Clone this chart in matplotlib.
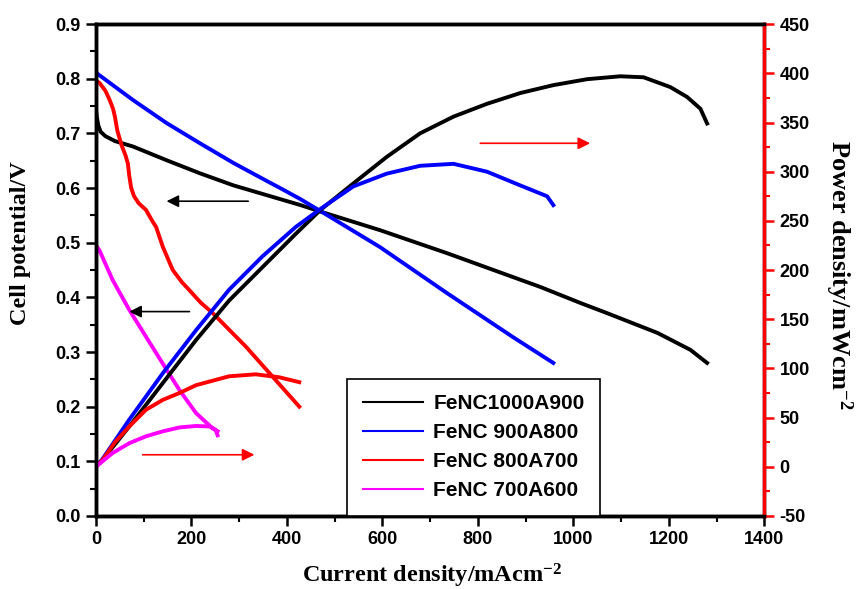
import matplotlib
matplotlib.use("Agg")
import matplotlib.pyplot as plt
from matplotlib.ticker import MultipleLocator, FormatStrFormatter

plt.rcParams["font.family"] = "Liberation Sans"
plt.rcParams["font.weight"] = "bold"
plt.rcParams["font.size"] = 13
plt.rcParams["axes.unicode_minus"] = False
plt.rcParams["mathtext.fontset"] = "custom"
plt.rcParams["mathtext.rm"] = "Liberation Serif:bold"
plt.rcParams["mathtext.it"] = "Liberation Serif:bold"
plt.rcParams["mathtext.bf"] = "Liberation Serif:bold"

# polarization curves (left axis, V)
i_1000 = [0, 2, 5, 10, 20, 40, 78, 148, 218, 288, 358, 428, 474, 595, 735, 874, 931, 1014, 1071, 1176, 1245, 1280]
v_1000 = [0.745, 0.73, 0.715, 0.703, 0.695, 0.686, 0.676, 0.651, 0.627, 0.605, 0.587, 0.569, 0.556, 0.523, 0.481, 0.437, 0.419, 0.39, 0.371, 0.335, 0.304, 0.28]
i_900 = [0, 2, 78, 148, 218, 288, 358, 386, 428, 474, 595, 735, 874, 958]
v_900 = [0.815, 0.81, 0.761, 0.719, 0.682, 0.646, 0.613, 0.600, 0.580, 0.556, 0.492, 0.408, 0.327, 0.28]
i_800 = [0, 8, 20, 29, 36, 40, 45, 54, 62, 67, 70, 74, 80, 90, 105, 118, 126, 140, 161, 180, 196, 220, 245, 280, 314, 370, 426]
v_800 = [0.797, 0.792, 0.778, 0.761, 0.745, 0.73, 0.705, 0.678, 0.66, 0.645, 0.622, 0.60, 0.585, 0.572, 0.56, 0.54, 0.529, 0.493, 0.45, 0.428, 0.413, 0.39, 0.371, 0.34, 0.31, 0.255, 0.20]
i_700 = [0, 7, 35, 70, 105, 140, 175, 210, 245, 255]
v_700 = [0.495, 0.487, 0.432, 0.377, 0.328, 0.279, 0.2305, 0.188, 0.160, 0.155]

# power density curves (right axis, mW/cm2)
pi_1000 = [0, 14, 70, 140, 210, 279, 349, 419, 470, 539, 609, 679, 749, 819, 889, 958, 1028, 1098, 1147, 1203, 1238, 1266, 1280]
p_1000 = [0, 7, 41, 85, 129, 169, 203, 237, 261, 288, 315, 339, 356, 369, 380, 388, 394, 397, 396, 386, 376, 364, 349]
pi_900 = [0, 14, 70, 140, 210, 279, 349, 419, 470, 539, 609, 679, 749, 819, 889, 945, 958]
p_900 = [0, 8, 48, 95, 139, 180, 214, 244, 262, 285, 298, 306, 308, 300, 286, 275, 266]
pi_800 = [0, 14, 40, 70, 105, 140, 175, 210, 279, 335, 384, 426]
p_800 = [0, 7, 25, 41, 58, 68, 75, 83, 92, 94, 91, 86]
pi_700 = [0, 35, 70, 105, 140, 175, 210, 238, 250, 255]
p_700 = [0, 14, 24, 31, 36, 40, 41.5, 41, 38, 32]

labels = ["FeNC1000A900", "FeNC 900A800", "FeNC 800A700", "FeNC 700A600"]
colors = ["black", "#0000ff", "#ff0000", "#ff00ff"]

serif = {"family": "Liberation Serif", "weight": "bold"}

fig = plt.figure(figsize=(8.56, 5.89), dpi=100)
ax = fig.add_axes([0.112, 0.124, 0.781, 0.835])
ax2 = ax.twinx()

lw = 2.8
pol = [(i_1000, v_1000), (i_900, v_900), (i_800, v_800), (i_700, v_700)]
pw = [(pi_1000, p_1000), (pi_900, p_900), (pi_800, p_800), (pi_700, p_700)]
for (x, y), lab, c in zip(pol, labels, colors):
    ax.plot(x, y, color=c, lw=lw, label=lab, solid_joinstyle="round")
for (x, y), c in zip(pw, colors):
    ax2.plot(x, y, color=c, lw=lw, solid_joinstyle="round")

ax.set_xlim(0, 1400)
ax.set_ylim(0, 0.9)
ax2.set_ylim(-50, 450)

ax.xaxis.set_major_locator(MultipleLocator(200))
ax.xaxis.set_minor_locator(MultipleLocator(100))
ax.yaxis.set_major_locator(MultipleLocator(0.1))
ax.yaxis.set_minor_locator(MultipleLocator(0.05))
ax.yaxis.set_major_formatter(FormatStrFormatter("%.1f"))
ax2.yaxis.set_major_locator(MultipleLocator(50))
ax2.yaxis.set_minor_locator(MultipleLocator(25))

for a in (ax, ax2):
    for s in a.spines.values():
        s.set_linewidth(2.5)
ax2.spines["right"].set_color("red")

ax.tick_params(which="major", direction="out", length=7.5, width=1.8, top=False, right=False)
ax.tick_params(which="minor", direction="out", length=4.5, width=1.5, top=False, right=False)
ax2.tick_params(which="major", direction="out", length=7.5, width=1.8, color="red")
ax2.tick_params(which="minor", direction="out", length=4, width=1.5, color="red")

ax.set_xlabel("Current density/mAcm$^{-2}$", fontsize=17.5, **serif)
ax.xaxis.set_label_coords(0.503, -0.094)
ax.set_ylabel("Cell potential/V", fontsize=17.5, **serif)
ax.yaxis.set_label_coords(-0.097, 0.555)
ax2.set_ylabel("Power density/mWcm$^{-2}$", fontsize=19, rotation=270, va="bottom", **serif)
ax2.yaxis.set_label_coords(1.088, 0.49)

# arrows pointing at the axis each curve family belongs to
arrows = [((319, 0.576), (148, 0.576), "black"),
          ((196, 0.374), (70, 0.374), "black"),
          ((98, 0.112), (332, 0.112), "red"),
          ((805, 0.682), (1035, 0.682), "red")]
for start, end, c in arrows:
    ax.annotate("", xy=end, xytext=start,
                arrowprops=dict(arrowstyle="-|>", color=c, lw=1.2, mutation_scale=18,
                                shrinkA=0, shrinkB=0))

leg = ax2.legend(*ax.get_legend_handles_labels(), loc="lower left",
                 bbox_to_anchor=(0.376, 0.0), borderaxespad=0, fancybox=False,
                 framealpha=1, edgecolor="black", handlelength=2.9,
                 handletextpad=0.48, labelspacing=0.48, borderpad=0.75,
                 prop={"family": "Liberation Sans", "weight": "bold", "size": 15})
leg.get_frame().set_linewidth(1.2)
for h in leg.get_lines():
    h.set_linewidth(1.5)

fig.savefig("out.png", dpi=100)
